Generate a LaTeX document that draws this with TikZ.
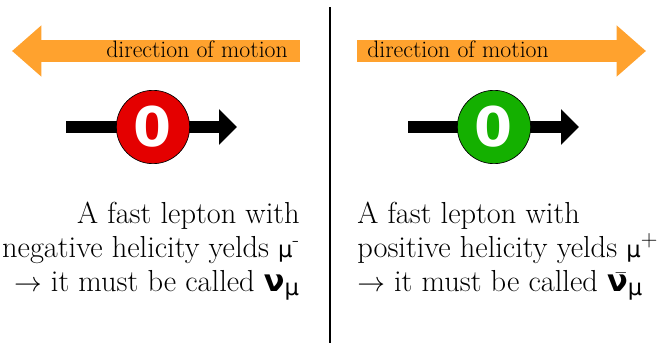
\documentclass[tikz,border=0pt]{standalone}
\usepackage{fontspec}
\usetikzlibrary{arrows.meta}
\newfontfamily\greekfont{DejaVu Sans}
\newfontfamily\digitfont{DejaVu Sans}
\definecolor{motionorange}{RGB}{255,162,46}
\definecolor{helred}{RGB}{228,0,0}
\definecolor{helgreen}{RGB}{20,176,0}
\newcommand{\gmu}{{\greekfont\fontsize{17}{17}\selectfont μ}}
\newcommand{\gnu}{{\greekfont\bfseries ν}}
\begin{document}
\begin{tikzpicture}[x=0.75pt,y=-0.75pt,
  motion/.style={draw=motionorange,line width=17pt,-{Triangle[length=22pt,width=37pt]}},
  spin/.style={draw=black,line width=9pt,-{Triangle[length=13.5pt,width=26pt]}},
  ball/.style={circle,draw=black,line width=0.5pt,minimum size=55pt,inner sep=0pt,
    text=white,font=\digitfont\bfseries\fontsize{41}{41}\selectfont},
  caption/.style={font=\fontsize{17.8}{20}\selectfont,inner sep=0pt},
  remark/.style={font=\fontsize{22.8}{25.5}\selectfont,inner sep=0pt}]
\useasboundingbox (0,0) rectangle (668,343);
% separator
\coordinate (sepa) at (330,7);
\coordinate (sepb) at (330,343);
\draw [line width=1.5pt] (sepa) -- (sepb);
% left half: negative helicity
\coordinate (ltail) at (300,51);
\coordinate (ltip) at (12,51);
\draw [motion] (ltail) -- (ltip);
\node [caption,anchor=base east] (lcap) at (288,57) {direction of motion};
\coordinate (lspina) at (66,127);
\coordinate (lspinb) at (237,127);
\draw [spin] (lspina) -- (lspinb);
\node [ball,fill=helred] (lball) at (153,127) {0};
\node [remark,anchor=base east,align=right] (ltext) at (300,291)
  {A fast lepton with\\negative helicity yelds \gmu\textsuperscript{-}\\$\rightarrow$ it must be called \gnu\textsubscript{\gmu}};
% right half: positive helicity
\coordinate (rtail) at (357,51);
\coordinate (rtip) at (646,51);
\draw [motion] (rtail) -- (rtip);
\node [caption,anchor=base west] (rcap) at (367,57) {direction of motion};
\coordinate (rspina) at (408,127);
\coordinate (rspinb) at (579,127);
\draw [spin] (rspina) -- (rspinb);
\node [ball,fill=helgreen] (rball) at (494,127) {0};
\node [remark,anchor=base west,align=left] (rtext) at (357,291)
  {A fast lepton with\\positive helicity yelds \gmu$^{+}$\\$\rightarrow$ it must be called \={\gnu}\textsubscript{\gmu}};
\end{tikzpicture}
\end{document}
